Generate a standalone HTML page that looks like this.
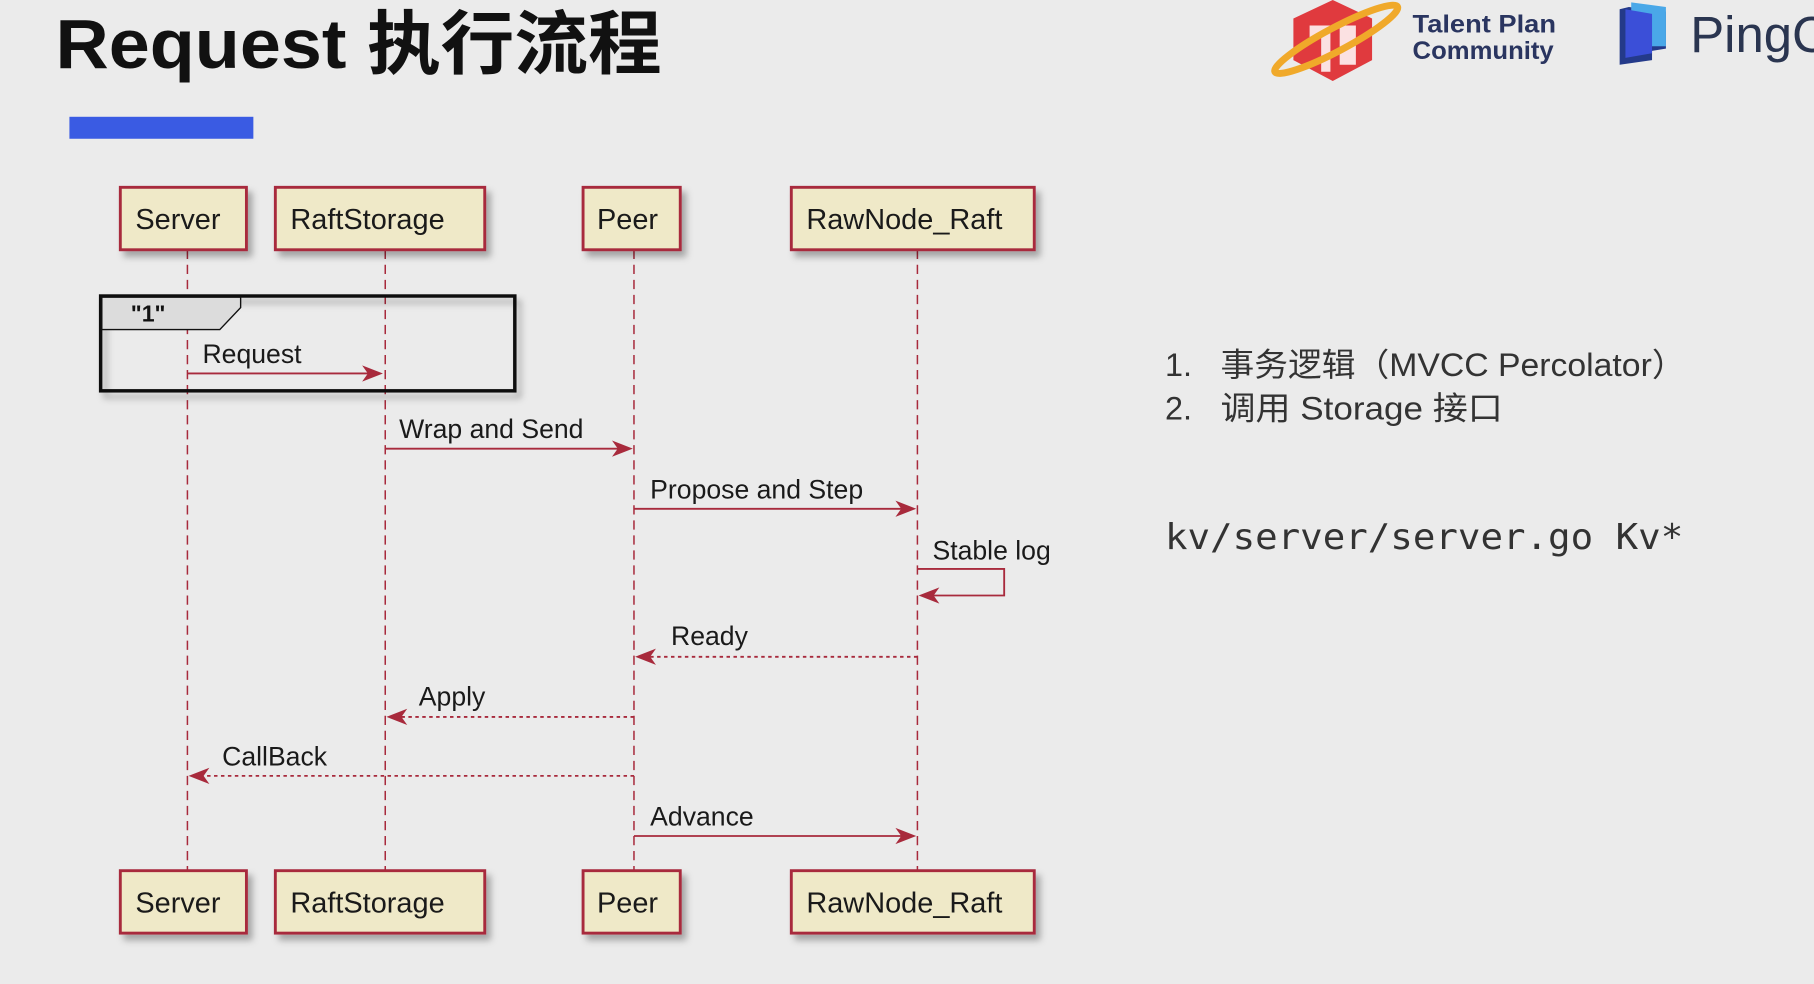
<!DOCTYPE html>
<html><head><meta charset="utf-8"><style>
html,body{margin:0;padding:0;background:#ebebeb;overflow:hidden}
svg{display:block}
</style></head><body>
<svg width="1814" height="984" viewBox="0 0 1568 851" preserveAspectRatio="none" xmlns="http://www.w3.org/2000/svg">
<defs>
<filter id="sh" x="-10%" y="-10%" width="130%" height="140%"><feDropShadow dx="4" dy="5" stdDeviation="3" flood-color="#000" flood-opacity="0.3"/></filter>
</defs>
<rect width="1568" height="851" fill="#ebebeb"/>
<text x="48" y="59" font-family="'Liberation Sans','Noto Sans CJK SC',sans-serif" font-weight="bold" font-size="60" fill="#111" textLength="524" lengthAdjust="spacingAndGlyphs">Request 执行流程</text>
<rect x="60" y="101" width="159" height="19" fill="#3a5be3"/>
<polygon points="1152,0 1186,16 1186,52 1152,70 1118,52 1118,16" fill="#e03a3e"/>
<path d="M1132,22 h18 v40 h-8 v-30 h-10z M1158,22 h14 v34 h-14z" fill="#fff" opacity="0.85"/>
<ellipse cx="1155" cy="34" rx="60" ry="10" transform="rotate(-28 1155 34)" fill="none" stroke="#f0a92a" stroke-width="6"/>
<text x="1221" y="28" font-family="'Liberation Sans',sans-serif" font-weight="bold" font-size="22" fill="#2a3560" textLength="124" lengthAdjust="spacingAndGlyphs">Talent Plan</text>
<text x="1221" y="51" font-family="'Liberation Sans',sans-serif" font-weight="bold" font-size="22" fill="#2a3560" textLength="122" lengthAdjust="spacingAndGlyphs">Community</text>
<polygon points="1408,6 1440,10 1440,42 1428,44 1428,52 1400,56 1400,8" fill="#243a8a"/>
<polygon points="1410,2 1440,6 1440,40 1425,40 1410,44" fill="#4aa8e8"/>
<polygon points="1405,8 1428,12 1428,46 1405,50" fill="#3b4fd8"/>
<text x="1461" y="45" font-family="'Liberation Sans',sans-serif" font-size="44" fill="#2a3550">PingC</text>
<g stroke="#a82a3c" stroke-width="1.3" stroke-dasharray="8,5" fill="none">
<line x1="162" y1="216" x2="162" y2="753"/>
<line x1="333" y1="216" x2="333" y2="753"/>
<line x1="548" y1="216" x2="548" y2="753"/>
<line x1="793" y1="216" x2="793" y2="753"/>
</g>
<g font-family="'Liberation Sans',sans-serif" font-size="25" fill="#1a1a1a">
<g filter="url(#sh)" fill="#efe9c8" stroke="#a82a3c" stroke-width="2.5">
<rect x="104" y="162" width="109" height="54"/>
<rect x="238" y="162" width="181" height="54"/>
<rect x="504" y="162" width="84" height="54"/>
<rect x="684" y="162" width="210" height="54"/>
<rect x="104" y="753" width="109" height="54"/>
<rect x="238" y="753" width="181" height="54"/>
<rect x="504" y="753" width="84" height="54"/>
<rect x="684" y="753" width="210" height="54"/>
</g>
<text x="117" y="198">Server</text><text x="251" y="198">RaftStorage</text><text x="516" y="198">Peer</text><text x="697" y="198">RawNode_Raft</text>
<text x="117" y="789">Server</text><text x="251" y="789">RaftStorage</text><text x="516" y="789">Peer</text><text x="697" y="789">RawNode_Raft</text>
</g>
<rect x="87" y="256" width="358" height="82" fill="none" stroke="#111" stroke-width="3" filter="url(#sh)"/>
<polygon points="88,257 208,257 208,266 190,285 88,285" fill="#dcdcdc" stroke="#111" stroke-width="1.2"/>
<text x="113" y="278" font-family="'Liberation Sans',sans-serif" font-weight="bold" font-size="20" fill="#111">"1"</text>
<g stroke="#a82a3c" stroke-width="1.6" fill="none">
<line x1="162" y1="323" x2="326" y2="323"/>
<line x1="333" y1="388" x2="543" y2="388"/>
<line x1="548" y1="440" x2="788" y2="440"/>
<polyline points="793,492 868,492 868,515 798,515"/>
<line x1="793" y1="568" x2="553" y2="568" stroke-dasharray="3,3"/>
<line x1="548" y1="620" x2="338" y2="620" stroke-dasharray="3,3"/>
<line x1="548" y1="671" x2="167" y2="671" stroke-dasharray="3,3"/>
<line x1="548" y1="723" x2="788" y2="723"/>
</g>
<g fill="#a82a3c">
<polygon points="331,323 313,316 318,323 313,330"/>
<polygon points="547,388 529,381 534,388 529,395"/>
<polygon points="792,440 774,433 779,440 774,447"/>
<polygon points="794,515 812,508 807,515 812,522"/>
<polygon points="549,568 567,561 562,568 567,575"/>
<polygon points="334,620 352,613 347,620 352,627"/>
<polygon points="163,671 181,664 176,671 181,678"/>
<polygon points="792,723 774,716 779,723 774,730"/>
</g>
<g font-family="'Liberation Sans',sans-serif" font-size="23" fill="#1a1a1a">
<text x="175" y="314">Request</text>
<text x="345" y="379">Wrap and Send</text>
<text x="562" y="431">Propose and Step</text>
<text x="806" y="484">Stable log</text>
<text x="580" y="558">Ready</text>
<text x="362" y="610">Apply</text>
<text x="192" y="662">CallBack</text>
<text x="562" y="714">Advance</text>
</g>
<g font-family="'Liberation Sans','Noto Sans CJK SC',sans-serif" font-size="28" fill="#333">
<text x="1007" y="325">1.</text>
<text x="1055" y="325" textLength="402" lengthAdjust="spacingAndGlyphs">事务逻辑（MVCC Percolator）</text>
<text x="1007" y="363">2.</text>
<text x="1055" y="363" textLength="244" lengthAdjust="spacingAndGlyphs">调用 Storage 接口</text>
</g>
<text x="1007" y="475" font-family="'DejaVu Sans Mono','Liberation Mono',monospace" font-size="31" fill="#333" textLength="448" lengthAdjust="spacingAndGlyphs">kv/server/server.go Kv*</text>
</svg>
</body></html>
